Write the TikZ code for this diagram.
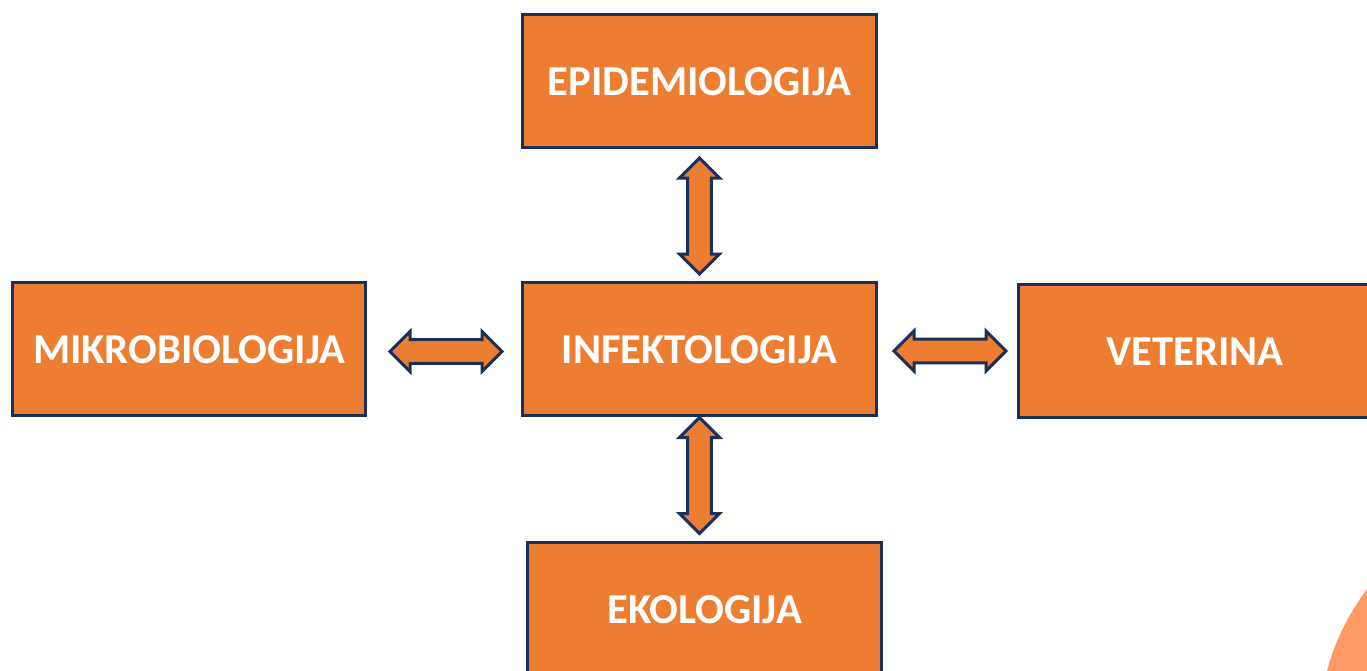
\documentclass[tikz,border=0pt]{standalone}
\usepackage{fontspec}
\setmainfont{Carlito}
\usetikzlibrary{shapes.arrows}
\definecolor{boxfill}{HTML}{ED7D31}
\definecolor{boxline}{HTML}{1B2F5B}
\definecolor{blob}{HTML}{FF9966}
\tikzset{
  topic/.style={draw=boxline,fill=boxfill,line width=3pt,text=white,inner sep=0pt,outer sep=0pt,
    font=\fontsize{42.6}{42.6}\selectfont\bfseries,minimum width=353.5pt,minimum height=133.5pt,text height=29pt,text depth=0pt},
  link/.style={double arrow,draw=boxline,fill=boxfill,line width=3pt,inner sep=10pt,outer sep=0pt,
    double arrow tip angle=90,double arrow head extend=8pt,minimum width=40pt,minimum height=112pt},
  uplink/.style={link,shape border rotate=90,minimum height=116pt},
}
\begin{document}
\begin{tikzpicture}[x=1pt,y=-1pt]
\clip (0,0) rectangle (1367,671);
\fill[white] (0,0) rectangle (1367,671);
\fill[blob] (1367,589) .. controls (1350,612) and (1335,640) .. (1327,671) -- (1367,671) -- cycle;
\node[topic] (epi) at (699.5,81) {EPIDEMIOLOGIJA};
\node[topic] (inf) at (699.5,349) {INFEKTOLOGIJA};
\node[topic] (mik) at (189,349) {MIKROBIOLOGIJA};
\node[topic] (vet) at (1195,351) {VETERINA};
\node[topic] (eko) at (704.5,609) {EKOLOGIJA};
\node[uplink] (a1) at (699.5,216) {};
\node[uplink] (a2) at (699.5,475.5) {};
\node[link] (a3) at (446,351.5) {};
\node[link] (a4) at (950,351) {};
\end{tikzpicture}
\end{document}
